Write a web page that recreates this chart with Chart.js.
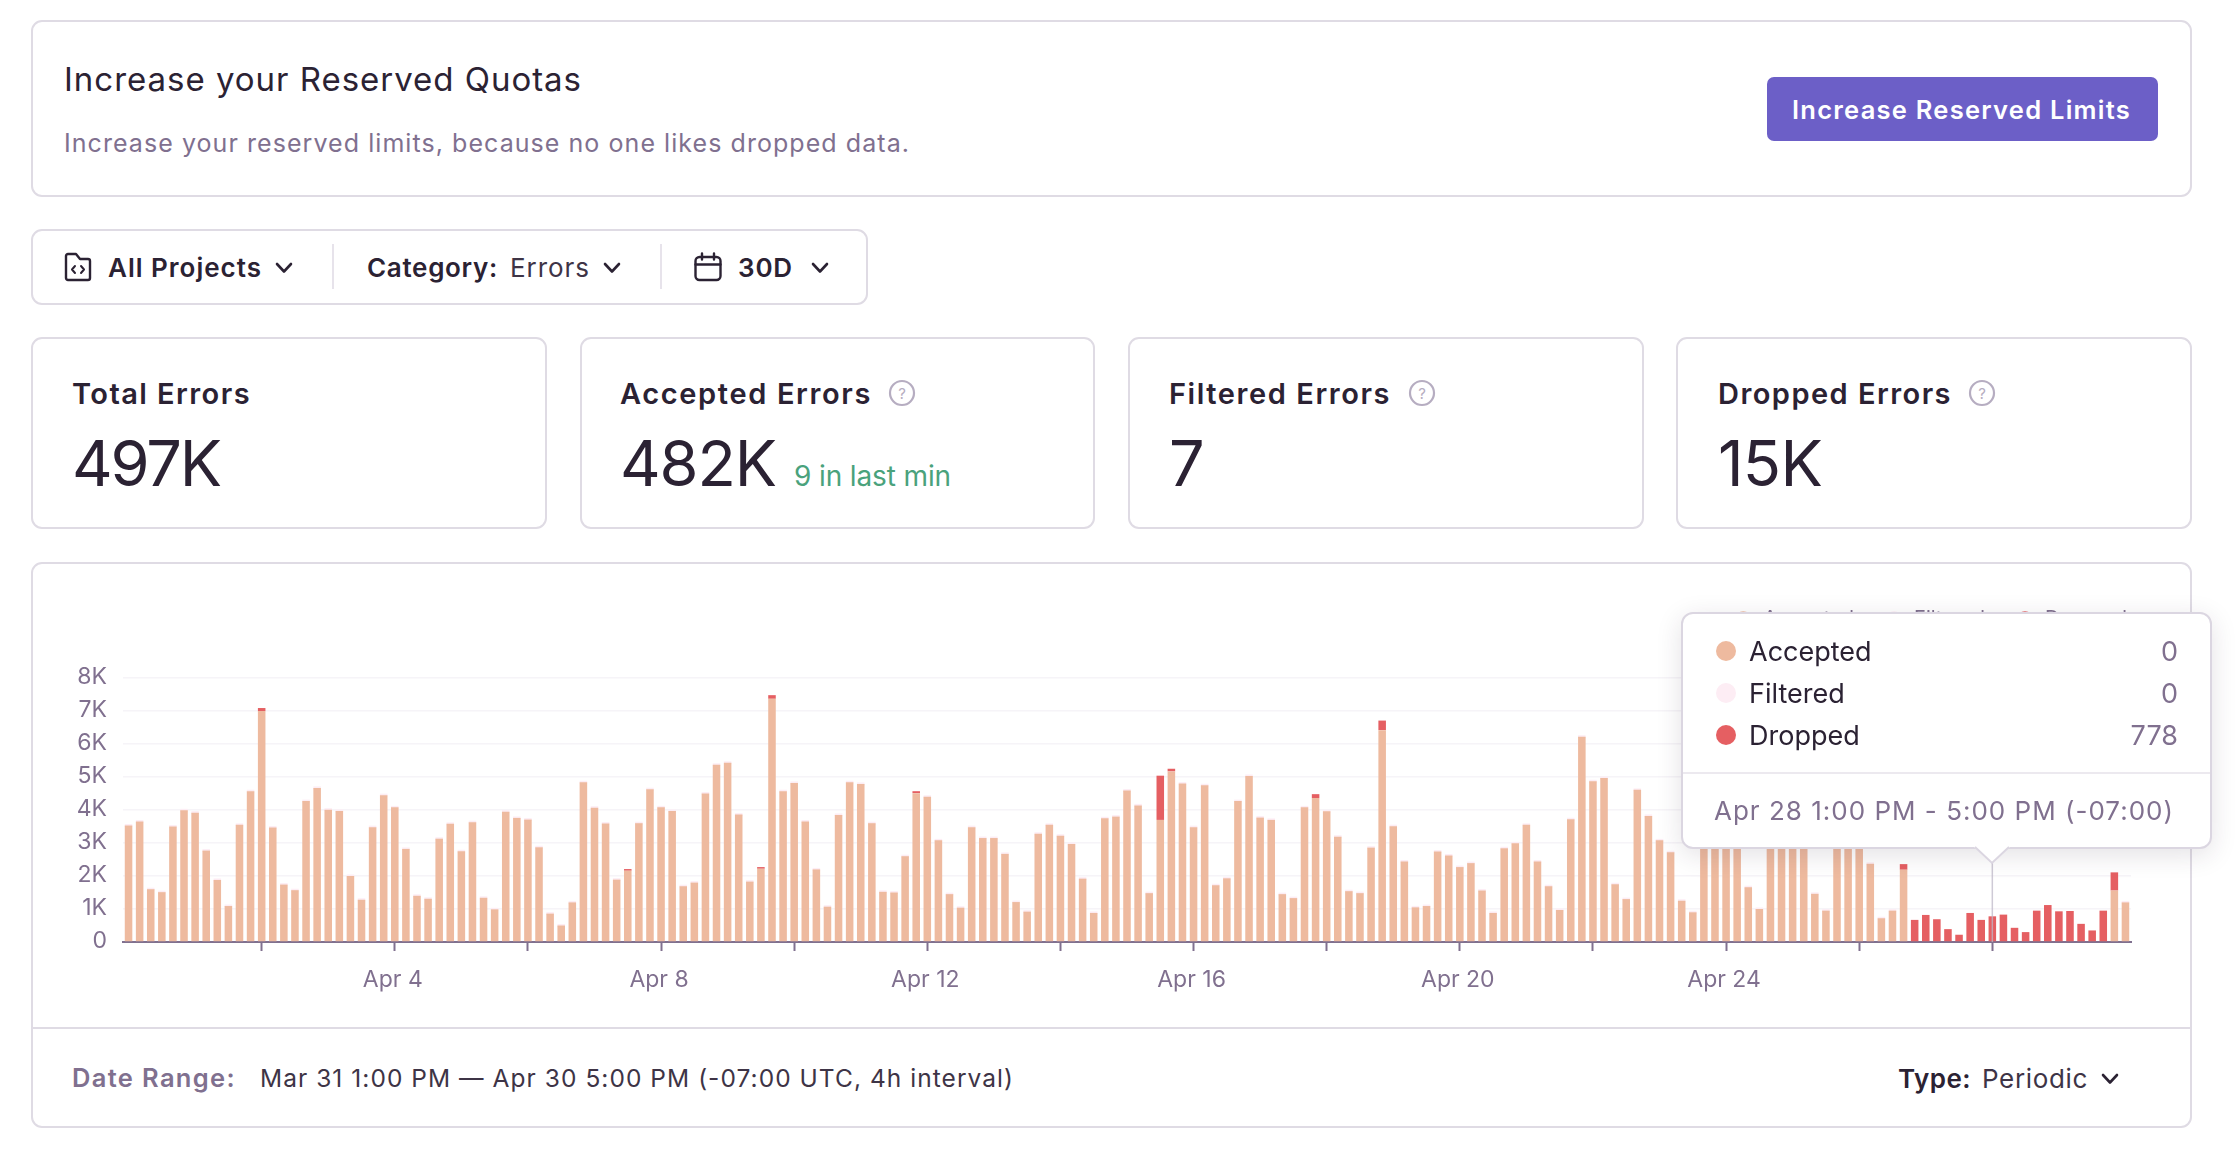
<!DOCTYPE html>
<html>
<head>
<meta charset="utf-8">
<title>Usage stats</title>
<script src="https://cdn.jsdelivr.net/npm/chart.js@4/dist/chart.umd.min.js"></script>
<style>
  html,body{margin:0;padding:0;background:#fff;width:2236px;height:1156px;overflow:hidden;font-family:Inter,"Open Sans",sans-serif;color:#2B2233}
  .box{position:absolute;box-sizing:border-box;background:#fff;border:2px solid #dfdbe4;border-radius:11px}
  .t{position:absolute;white-space:nowrap;line-height:1;transform:translateY(-50%)}
  svg{position:absolute;overflow:visible}
  canvas{position:absolute;left:33px;top:564px}
  #tip{position:absolute;box-sizing:border-box;background:#fff;border:2px solid #dbd6e1;border-radius:12px;box-shadow:0 6px 26px rgba(43,34,51,.13)}
  #arrow{position:absolute}
</style>
</head>
<body>

<div class="box" style="left:31px;top:20px;width:2161px;height:177px"></div>
<div class="t" data-w="518" style="left:64px;top:79px;font-size:33px;font-weight:400">Increase your Reserved Quotas</div>
<div class="t" data-w="846" style="left:64px;top:143px;font-size:25px;color:#80708F">Increase your reserved limits, because no one likes dropped data.</div>
<div style="position:absolute;left:1767px;top:77px;width:391px;height:64px;background:#6C5FC7;border-radius:7px"></div>
<div class="t" data-w="339" style="left:1792px;top:110px;font-size:25.5px;font-weight:600;color:#fff">Increase Reserved Limits</div>

<div class="box" style="left:31px;top:229px;width:837px;height:76px"></div>
<svg style="left:64px;top:252px" width="28" height="30" viewBox="0 0 28 30" fill="none" stroke="#2B2233" stroke-width="2.4" stroke-linejoin="round" stroke-linecap="round">
  <path d="M2 4 a2 2 0 0 1 2-2 h8 l4 5 h8 a2 2 0 0 1 2 2 v17 a2 2 0 0 1-2 2 h-20 a2 2 0 0 1-2-2 z"/>
  <path d="M11 14 l-3 3.5 l3 3.5 M17 14 l3 3.5 l-3 3.5" stroke-width="2"/>
</svg>
<div class="t" data-w="154" style="left:108px;top:268px;font-size:26px;font-weight:600">All Projects</div>
<svg style="left:275px;top:262px" width="18" height="12" fill="none" stroke="#2B2233" stroke-width="2.6" stroke-linecap="round" stroke-linejoin="round"><polyline points="2,2 9,9.5 16,2"/></svg>
<div style="position:absolute;left:332px;top:244px;width:2px;height:45px;background:#e7e3eb"></div>
<div class="t" data-w="131" style="left:367px;top:268px;font-size:26px;font-weight:600">Category:</div>
<div class="t" data-w="80" style="left:510px;top:268px;font-size:26px;color:#3e3446">Errors</div>
<svg style="left:603px;top:262px" width="18" height="12" fill="none" stroke="#2B2233" stroke-width="2.6" stroke-linecap="round" stroke-linejoin="round"><polyline points="2,2 9,9.5 16,2"/></svg>
<div style="position:absolute;left:660px;top:244px;width:2px;height:45px;background:#e7e3eb"></div>
<svg style="left:694px;top:252px" width="28" height="30" viewBox="0 0 28 30" fill="none" stroke="#2B2233" stroke-width="2.4" stroke-linecap="round" stroke-linejoin="round">
  <rect x="1.5" y="5" width="25" height="23" rx="4"/><path d="M1.5 12.5 h25 M8 1.5 v6 M20 1.5 v6"/>
</svg>
<div class="t" data-w="55" style="left:738px;top:268px;font-size:26px;font-weight:600">30D</div>
<svg style="left:811px;top:262px" width="18" height="12" fill="none" stroke="#2B2233" stroke-width="2.6" stroke-linecap="round" stroke-linejoin="round"><polyline points="2,2 9,9.5 16,2"/></svg>

<div class="box" style="left:31px;top:337px;width:516px;height:192px"></div>
<div class="box" style="left:580px;top:337px;width:515px;height:192px"></div>
<div class="box" style="left:1128px;top:337px;width:516px;height:192px"></div>
<div class="box" style="left:1676px;top:337px;width:516px;height:192px"></div>

<div class="t" data-w="179" style="left:72px;top:393px;font-size:29px;font-weight:600">Total Errors</div>
<div class="t" data-w="148" style="left:72px;top:463px;font-size:63px;font-weight:400">497K</div>
<div class="t" data-w="252" style="left:620px;top:393px;font-size:29px;font-weight:600">Accepted Errors</div>
<div class="t" data-w="156" style="left:620px;top:463px;font-size:63px;font-weight:400">482K</div>
<div class="t" data-w="157" style="left:794px;top:476px;font-size:28px;color:#4AA27C">9 in last min</div>
<div class="t" data-w="222" style="left:1169px;top:393px;font-size:29px;font-weight:600">Filtered Errors</div>
<div class="t" style="left:1169px;top:463px;font-size:63px;font-weight:400">7</div>
<div class="t" data-w="234" style="left:1718px;top:393px;font-size:29px;font-weight:600">Dropped Errors</div>
<div class="t" data-w="104" style="left:1718px;top:463px;font-size:63px;font-weight:400">15K</div>
<svg style="left:889px;top:380px" width="26" height="26" fill="none" stroke="#B6ADC1" stroke-width="2.2"><circle cx="13" cy="13" r="12"/><text x="13" y="18.5" text-anchor="middle" font-size="15" font-family="Inter" fill="#B6ADC1" stroke="none">?</text></svg>
<svg style="left:1409px;top:380px" width="26" height="26" fill="none" stroke="#B6ADC1" stroke-width="2.2"><circle cx="13" cy="13" r="12"/><text x="13" y="18.5" text-anchor="middle" font-size="15" font-family="Inter" fill="#B6ADC1" stroke="none">?</text></svg>
<svg style="left:1969px;top:380px" width="26" height="26" fill="none" stroke="#B6ADC1" stroke-width="2.2"><circle cx="13" cy="13" r="12"/><text x="13" y="18.5" text-anchor="middle" font-size="15" font-family="Inter" fill="#B6ADC1" stroke="none">?</text></svg>

<div class="box" style="left:31px;top:562px;width:2161px;height:566px"></div>
<canvas id="chart" width="2158" height="463"></canvas>
<div style="position:absolute;left:33px;top:1027px;width:2157px;height:2px;background:#dfdbe4"></div>
<div class="t" data-w="164" style="left:72px;top:1078px;font-size:25.5px;font-weight:600;color:#80708F">Date Range:</div>
<div class="t" data-w="754" style="left:260px;top:1078px;font-size:24.5px;color:#3e3446">Mar 31 1:00 PM — Apr 30 5:00 PM (-07:00 UTC, 4h interval)</div>
<div class="t" data-w="73" style="left:1898px;top:1079px;font-size:26px;font-weight:600">Type:</div>
<div class="t" data-w="106" style="left:1982px;top:1079px;font-size:26px;color:#3e3446">Periodic</div>
<svg style="left:2101px;top:1073px" width="18" height="12" fill="none" stroke="#2B2233" stroke-width="2.6" stroke-linecap="round" stroke-linejoin="round"><polyline points="2,2 9,9.5 16,2"/></svg>

<div id="tip" style="display:none"></div>
<svg id="arrow" width="36" height="18" style="display:none"><polygon points="0,0 36,0 18,16" fill="#fff"/><polyline points="1,0 18,16 35,0" fill="none" stroke="#dbd6e1" stroke-width="2"/></svg>

<script>
// Values
const accepted = [
  3530,3650,1600,1510,3500,3990,3920,2770,1880,1090,3550,4570,
  7000,3470,1740,1570,4270,4670,4010,3970,2000,1280,3480,4450,
  4080,2820,1400,1310,3130,3580,2750,3630,1340,990,3950,3760,
  3710,2870,860,500,1200,4840,4070,3590,1890,2160,3600,4630,
  4080,3970,1690,1800,4500,5370,5430,3860,1830,2220,7370,4570,
  4820,3650,2200,1070,3850,4840,4790,3600,1520,1500,2600,4510,
  4400,3080,1450,1040,3480,3150,3150,2670,1210,920,3280,3550,
  3220,2970,1920,880,3750,3800,4590,4140,1480,3700,5170,4800,
  3480,4750,1720,1930,4270,5030,3770,3700,1450,1330,4080,4360,
  3960,3190,1540,1480,2860,6420,3510,2440,1050,1090,2740,2620,
  2270,2390,1560,880,2840,2990,3550,2440,1690,970,3720,6220,
  4870,4970,1750,1300,4610,3820,3080,2720,1250,900,3400,3900,
  3600,3150,1660,1000,3800,3350,3050,3000,1460,950,3900,3300,
  3000,2370,720,950,2190,0,0,0,0,0,0,0,
  0,0,0,0,0,0,0,0,0,0,0,1560,1200
];
const filtered = [
  0,0,0,0,0,0,0,0,0,0,0,0,
  null,0,0,0,0,0,0,0,0,0,0,0,
  0,0,0,0,0,0,0,0,0,0,0,0,
  0,0,0,0,0,0,0,0,0,null,0,0,
  0,0,0,0,0,0,0,0,0,null,null,0,
  0,0,0,0,0,0,0,0,0,0,0,null,
  0,0,0,0,0,0,0,0,0,0,0,0,
  0,0,0,0,0,0,0,0,0,null,null,0,
  0,0,0,0,0,0,0,0,0,0,0,null,
  0,0,0,0,0,null,0,0,0,0,0,0,
  0,0,0,0,0,0,0,0,0,0,0,0,
  0,0,0,0,0,0,0,0,0,0,0,0,
  0,0,0,0,0,0,0,0,0,0,0,0,
  0,0,0,0,null,null,null,null,null,null,null,null,
  null,null,null,null,null,null,null,null,null,null,null,null,0
];
const dropped = [
  0,0,0,0,0,0,0,0,0,0,0,0,
  90,0,0,0,0,0,0,0,0,0,0,0,
  0,0,0,0,0,0,0,0,0,0,0,0,
  0,0,0,0,0,0,0,0,0,50,0,0,
  0,0,0,0,0,0,0,0,0,50,110,0,
  0,0,0,0,0,0,0,0,0,0,0,60,
  0,0,0,0,0,0,0,0,0,0,0,0,
  0,0,0,0,0,0,0,0,0,1340,80,0,
  0,0,0,0,0,0,0,0,0,0,0,120,
  0,0,0,0,0,290,0,0,0,0,0,0,
  0,0,0,0,0,0,0,0,0,0,0,0,
  0,0,0,0,0,0,0,0,0,0,0,0,
  0,0,0,0,0,0,0,0,0,0,0,0,
  0,0,0,0,170,670,820,690,390,220,880,670,
  778,830,430,300,950,1120,930,940,550,350,950,550,0
];
const seriesNames = ['Accepted','Filtered','Dropped'];
const seriesColors = ['#EEBA9F','#FDEDF4','#E55F62'];
const tickLabels = ['Apr 4','Apr 8','Apr 12','Apr 16','Apr 20','Apr 24'];
const yTicks = ['0','1K','2K','3K','4K','5K','6K','7K','8K'];
const slotTimes = ['1:00 PM','5:00 PM','9:00 PM','1:00 AM','5:00 AM','9:00 AM','1:00 PM'];
const activeBar = 168;

const slotDate = i => { const d = Math.floor(i/6) + (i%6 >= 3 ? 1 : 0); return d === 0 ? 'Mar 31' : 'Apr ' + d; };
const categories = accepted.map((_, i) => `${slotDate(i)} ${slotTimes[i%6]} - ${slotTimes[i%6+1]} (-07:00)`);

// fit text widths to the reference
document.querySelectorAll('[data-w]').forEach(el => {
  const w = el.getBoundingClientRect().width, n = el.textContent.length;
  el.style.letterSpacing = ((+el.dataset.w - w) / n).toFixed(3) + 'px';
});

function external({chart, tooltip}) {
  const tip = document.getElementById('tip'), arrow = document.getElementById('arrow');
  if (!tooltip.dataPoints || !tooltip.dataPoints.length) return;
  const i = tooltip.dataPoints[0].dataIndex;
  const box = chart.canvas.getBoundingClientRect();
  const cx = box.left + chart.scales.x.getPixelForValue(i);
  const vals = [accepted[i], filtered[i] ?? 0, dropped[i]];
  const left = 1681, top = 612, w = 531, h = 237;
  tip.style.cssText += `;display:block;left:${left}px;top:${top}px;width:${w}px;height:${h}px`;
  const rowY = [37, 79, 121];
  let html = '';
  seriesNames.forEach((n, k) => {
    html += `<div style="position:absolute;left:33px;top:${rowY[k]-10}px;width:20px;height:20px;border-radius:50%;background:${seriesColors[k]}"></div>`
      + `<div class="t" style="left:66px;top:${rowY[k]}px;font-size:27px;color:#2B2233">${n}</div>`
      + `<div class="t" style="right:32px;top:${rowY[k]}px;font-size:27px;color:#80708F">${vals[k]}</div>`;
  });
  html += `<div style="position:absolute;left:0;right:0;top:158px;height:2px;background:#ece9ef"></div>`;
  html += `<div class="t" id="tipDate" style="left:31px;top:197px;font-size:26px;color:#80708F">${chart.data.labels[i]}</div>`;
  tip.innerHTML = html;
  const d = document.getElementById('tipDate');
  d.style.letterSpacing = ((460 - d.getBoundingClientRect().width) / d.textContent.length).toFixed(3) + 'px';
  arrow.style.cssText += `;display:block;left:${cx-18}px;top:${top+h-2}px`;
}

const hoverLine = {
  id: 'hoverLine',
  afterDatasetsDraw(chart) {
    const x = chart.scales.x.getPixelForValue(activeBar), c = chart.ctx;
    c.save();
    c.strokeStyle = 'rgba(190,184,200,.75)';
    c.lineWidth = 1.5;
    c.beginPath(); c.moveTo(x, 299); c.lineTo(x, chart.scales.y.bottom); c.stroke();
    c.restore();
  }
};
const legendGap = {
  id: 'legendGap',
  beforeInit(chart) {
    const fit = chart.legend.fit;
    chart.legend.fit = function () { fit.call(this); this.height += 39; };
  },
  afterLayout(chart) { chart.legend.right += 26; }
};

const chart = new Chart(document.getElementById('chart'), {
  type: 'bar',
  data: {
    labels: categories,
    datasets: [
      {label: seriesNames[0], data: accepted, backgroundColor: seriesColors[0]},
      {label: seriesNames[1], data: filtered, backgroundColor: seriesColors[1], minBarLength: 3},
      {label: seriesNames[2], data: dropped, backgroundColor: seriesColors[2]}
    ]
  },
  plugins: [hoverLine, legendGap],
  options: {
    responsive: false,
    animation: false,
    events: [],
    interaction: {mode: 'index', intersect: false},
    layout: {padding: {left: 0, right: 60, top: 15, bottom: 0}},
    datasets: {bar: {barPercentage: 0.68, categoryPercentage: 1, borderWidth: 0}},
    font: {family: 'Inter'},
    plugins: {
      legend: {
        display: true, position: 'top', align: 'end',
        labels: {usePointStyle: true, pointStyle: 'circle', boxHeight: 11, padding: 30, color: '#80708F', font: {family: 'Inter', size: 20}}
      },
      tooltip: {enabled: false, external, position: 'nearest'}
    },
    scales: {
      x: {
        stacked: true,
        afterBuildTicks(axis) { axis.ticks = axis.ticks.filter(t => t.value > 0 && t.value < 180 && t.value % 12 === 0); },
        afterFit(s) { s.height = 85; },
        border: {color: '#80708F', width: 2},
        grid: {offset: false, drawOnChartArea: false, tickLength: 9, tickColor: '#80708F', tickWidth: 2},
        ticks: {
          autoSkip: false, maxRotation: 0, minRotation: 0, padding: 15, labelOffset: -2, color: '#80708F',
          font: {family: 'Inter', size: 23},
          callback(v) { return v % 24 === 0 ? (tickLabels[v/24 - 1] ?? '') : ''; }
        }
      },
      y: {
        stacked: true, min: 0, max: 8000,
        afterFit(s) { s.width = 90; },
        border: {display: false},
        grid: {color: '#f6f4f8', lineWidth: 1.5, drawTicks: false},
        ticks: {
          stepSize: 1000, padding: 16, labelOffset: -1, color: '#80708F',
          font: {family: 'Inter', size: 23},
          callback(v) { return yTicks[v/1000]; }
        }
      }
    }
  }
});
const active = [0,1,2].map(d => ({datasetIndex: d, index: activeBar}));
chart.tooltip.setActiveElements(active, {x: chart.scales.x.getPixelForValue(activeBar), y: 300});
chart.update();
</script>
</body>
</html>
